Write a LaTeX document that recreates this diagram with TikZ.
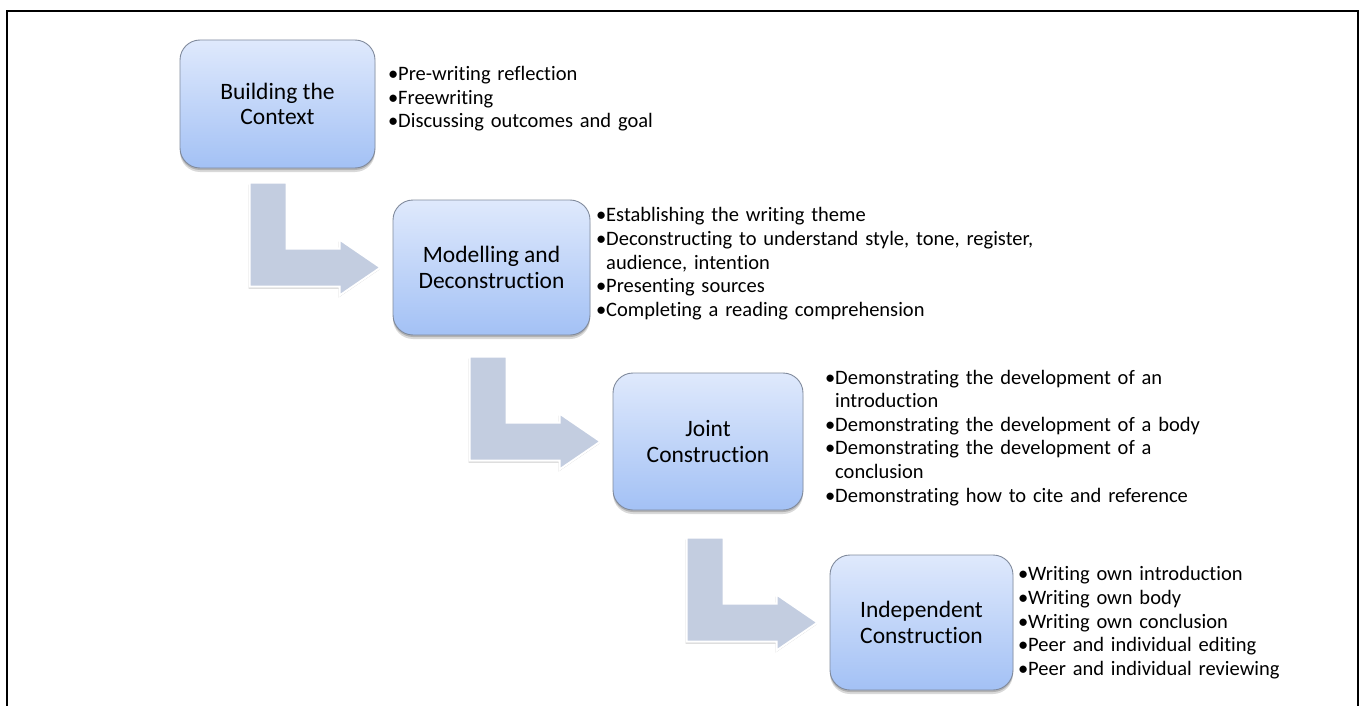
\documentclass[tikz,border=0pt]{standalone}
\usepackage{fontspec}
\setmainfont{Carlito}[Ligatures=NoCommon]
\usetikzlibrary{calc,shadows}

\definecolor{boxtop}{RGB}{223,233,252}
\definecolor{boxbot}{RGB}{163,193,245}
\definecolor{boxline}{RGB}{128,138,156}
\definecolor{arrowfill}{RGB}{195,205,224}

% one bullet point with a hanging indent for wrapped lines, never hyphenated
\newcommand\bul[1]{\par\hyphenpenalty=10000\relax\exhyphenpenalty=10000\relax
  \hangindent=10pt\hangafter=1\noindent\makebox[10pt][l]{\textbullet}#1}

% bent block arrow ending just left of the stage it points to
\newcommand\bentarrow[1]{%
  \begin{scope}[shift={($(#1.west)+(-12,0)$)}]
    \path[bent] (-131,-85) -- (-94,-85) -- (-94,-19) -- (-41,-19) -- (-41,-28)
      -- (0,0) -- (-41,28) -- (-41,19) -- (-131,19) -- cycle;
  \end{scope}}

\tikzset{
  stage/.style={draw=boxline, line width=0.9pt, rounded corners=20pt,
    top color=boxtop, bottom color=boxbot, align=center, inner sep=0pt,
    font=\fontsize{23.5}{25.5}\selectfont,
    drop shadow={shadow xshift=0pt, shadow yshift=-4pt, opacity=0.15, fill=black},
    drop shadow={shadow xshift=0pt, shadow yshift=-2pt, opacity=0.18, fill=black}},
  bullets/.style={anchor=west, inner sep=0pt, text width=600pt, align=left,
    font=\fontsize{20.5}{23.6}\selectfont},
  bent/.style={fill=arrowfill, draw=white, line width=2pt, line join=miter,
    drop shadow={shadow xshift=-1pt, shadow yshift=-2pt, opacity=0.2, fill=black}},
  frameline/.style={draw=black, line width=2.3pt}
}

\begin{document}
\begin{tikzpicture}[x=1pt, y=-1pt]
  \useasboundingbox (0,0) rectangle (1365,706);

  % open frame: left, top and right sides
  \path[frameline] (7,706) -- (7,11) -- (1358,11) -- (1358,706);

  % stages
  \node[stage, minimum width=195pt, minimum height=128pt] (b1) at (277.5,104) {Building the\\Context};
  \node[stage, minimum width=197pt, minimum height=135pt] (b2) at (491.5,267.5) {Modelling and\\Deconstruction};
  \node[stage, minimum width=190pt, minimum height=137pt] (b3) at (708,441.5) {Joint\\Construction};
  \node[stage, minimum width=183pt, minimum height=135pt] (b4) at (921.5,622.5) {Independent\\Construction};

  % arrows between stages
  \bentarrow{b2}
  \bentarrow{b3}
  \bentarrow{b4}

  % activities of each stage
  \node[bullets] (l1) at (388,94) {%
    \bul{Pre-writing reflection}
    \bul{Freewriting}
    \bul{Discussing outcomes and goal}};
  \node[bullets] (l2) at (596,259) {%
    \bul{Establishing the writing theme}
    \bul{Deconstructing to understand style, tone, register,\newline audience, intention}
    \bul{Presenting sources}
    \bul{Completing a reading comprehension}};
  \node[bullets] (l3) at (825,433) {%
    \bul{Demonstrating the development of an\newline introduction}
    \bul{Demonstrating the development of a body}
    \bul{Demonstrating the development of a\newline conclusion}
    \bul{Demonstrating how to cite and reference}};
  \node[bullets] (l4) at (1018,618) {%
    \bul{Writing own introduction}
    \bul{Writing own body}
    \bul{Writing own conclusion}
    \bul{Peer and individual editing}
    \bul{Peer and individual reviewing}};
\end{tikzpicture}
\end{document}
